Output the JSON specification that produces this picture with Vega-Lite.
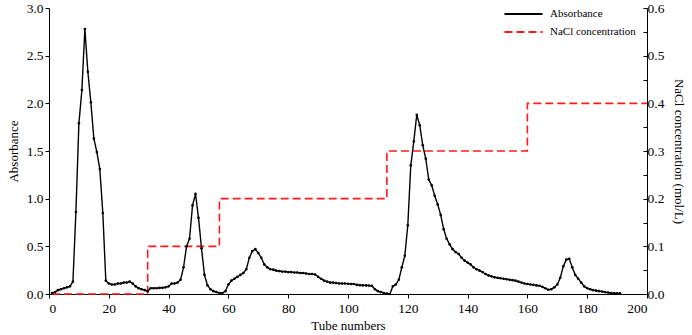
{
  "$schema": "https://vega.github.io/schema/vega-lite/v6.json",
  "width": 598,
  "height": 286,
  "autosize": "none",
  "padding": {"left": 49, "top": 8, "right": 45, "bottom": 41},
  "background": "white",
  "config": {
    "view": {"stroke": null},
    "font": "Liberation Serif",
    "axis": {"grid": false, "domainColor": "#000", "tickColor": "#000", "labelColor": "#000", "titleColor": "#000", "labelFont": "Liberation Serif", "titleFont": "Liberation Serif", "labelFontSize": 13.5, "titleFontSize": 13, "titleFontWeight": "normal", "tickSize": 4},
    "legend": {"labelFont": "Liberation Serif", "labelFontSize": 11, "labelColor": "#000"}
  },
  "datasets": {
    "abs": [
      {"t":1,"A":0.01},{"t":2,"A":0.02},{"t":3,"A":0.04},{"t":4,"A":0.05},{"t":5,"A":0.06},{"t":6,"A":0.07},{"t":7,"A":0.08},{"t":8,"A":0.13},
      {"t":9,"A":0.86},{"t":10,"A":1.79},{"t":11,"A":2.14},{"t":12,"A":2.78},{"t":13,"A":2.33},{"t":14,"A":2.01},{"t":15,"A":1.63},{"t":16,"A":1.49},{"t":17,"A":1.31},{"t":18,"A":0.85},{"t":19,"A":0.14},
      {"t":20,"A":0.11},{"t":21,"A":0.10},{"t":22,"A":0.10},{"t":23,"A":0.11},{"t":24,"A":0.11},{"t":25,"A":0.12},{"t":26,"A":0.12},{"t":27,"A":0.13},{"t":28,"A":0.11},{"t":29,"A":0.08},{"t":30,"A":0.06},{"t":31,"A":0.05},{"t":32,"A":0.04},{"t":33,"A":0.03},
      {"t":34,"A":0.06},{"t":35,"A":0.06},{"t":36,"A":0.06},{"t":37,"A":0.065},{"t":38,"A":0.065},{"t":39,"A":0.07},{"t":40,"A":0.08},{"t":41,"A":0.11},{"t":42,"A":0.11},{"t":43,"A":0.12},{"t":44,"A":0.15},{"t":45,"A":0.28},{"t":46,"A":0.50},{"t":47,"A":0.58},{"t":48,"A":0.93},{"t":49,"A":1.05},{"t":50,"A":0.80},{"t":51,"A":0.48},{"t":52,"A":0.20},{"t":53,"A":0.09},{"t":54,"A":0.05},{"t":55,"A":0.03},{"t":56,"A":0.02},{"t":57,"A":0.01},{"t":58,"A":0.01},{"t":59,"A":0.03},
      {"t":60,"A":0.10},{"t":61,"A":0.14},{"t":62,"A":0.16},{"t":63,"A":0.18},{"t":64,"A":0.20},{"t":65,"A":0.22},{"t":66,"A":0.26},{"t":67,"A":0.38},{"t":68,"A":0.45},{"t":69,"A":0.47},{"t":70,"A":0.43},{"t":71,"A":0.38},{"t":72,"A":0.31},{"t":73,"A":0.28},{"t":74,"A":0.26},{"t":75,"A":0.255},{"t":76,"A":0.245},{"t":77,"A":0.24},{"t":78,"A":0.235},{"t":79,"A":0.235},
      {"t":80,"A":0.23},{"t":81,"A":0.23},{"t":82,"A":0.225},{"t":83,"A":0.225},{"t":84,"A":0.22},{"t":85,"A":0.22},{"t":86,"A":0.215},{"t":87,"A":0.21},{"t":88,"A":0.21},{"t":89,"A":0.205},{"t":90,"A":0.18},{"t":91,"A":0.16},{"t":92,"A":0.14},{"t":93,"A":0.13},{"t":94,"A":0.12},{"t":95,"A":0.12},{"t":96,"A":0.115},{"t":97,"A":0.11},{"t":98,"A":0.11},{"t":99,"A":0.11},
      {"t":100,"A":0.108},{"t":101,"A":0.105},{"t":102,"A":0.105},{"t":103,"A":0.095},{"t":104,"A":0.093},{"t":105,"A":0.09},{"t":106,"A":0.09},{"t":107,"A":0.088},{"t":108,"A":0.085},{"t":109,"A":0.05},{"t":110,"A":0.03},{"t":111,"A":0.02},{"t":112,"A":0.01},{"t":113,"A":0.005},{"t":114,"A":0.0},{"t":115,"A":0.08},{"t":116,"A":0.10},{"t":117,"A":0.15},{"t":118,"A":0.28},{"t":119,"A":0.40},
      {"t":120,"A":0.72},{"t":121,"A":1.35},{"t":122,"A":1.60},{"t":123,"A":1.88},{"t":124,"A":1.77},{"t":125,"A":1.56},{"t":126,"A":1.42},{"t":127,"A":1.20},{"t":128,"A":1.14},{"t":129,"A":1.03},{"t":130,"A":0.94},{"t":131,"A":0.83},{"t":132,"A":0.68},{"t":133,"A":0.58},{"t":134,"A":0.52},{"t":135,"A":0.47},{"t":136,"A":0.44},{"t":137,"A":0.42},{"t":138,"A":0.38},{"t":139,"A":0.35},
      {"t":140,"A":0.33},{"t":141,"A":0.31},{"t":142,"A":0.28},{"t":143,"A":0.26},{"t":144,"A":0.245},{"t":145,"A":0.23},{"t":146,"A":0.21},{"t":147,"A":0.195},{"t":148,"A":0.185},{"t":149,"A":0.175},{"t":150,"A":0.17},{"t":151,"A":0.165},{"t":152,"A":0.16},{"t":153,"A":0.155},{"t":154,"A":0.15},{"t":155,"A":0.145},{"t":156,"A":0.14},{"t":157,"A":0.13},{"t":158,"A":0.12},{"t":159,"A":0.11},
      {"t":160,"A":0.105},{"t":161,"A":0.10},{"t":162,"A":0.095},{"t":163,"A":0.09},{"t":164,"A":0.087},{"t":165,"A":0.075},{"t":166,"A":0.06},{"t":167,"A":0.045},{"t":168,"A":0.05},{"t":169,"A":0.07},{"t":170,"A":0.10},{"t":171,"A":0.17},{"t":172,"A":0.29},{"t":173,"A":0.36},{"t":174,"A":0.37},{"t":175,"A":0.28},{"t":176,"A":0.20},{"t":177,"A":0.16},{"t":178,"A":0.12},{"t":179,"A":0.08},
      {"t":180,"A":0.06},{"t":181,"A":0.05},{"t":182,"A":0.04},{"t":183,"A":0.035},{"t":184,"A":0.03},{"t":185,"A":0.025},{"t":186,"A":0.02},{"t":187,"A":0.015},{"t":188,"A":0.01},{"t":189,"A":0.008},{"t":190,"A":0.007},{"t":191,"A":0.006}
    ],
    "nacl": [
      {"t":1,"C":0},{"t":33,"C":0.1},{"t":57,"C":0.2},{"t":113,"C":0.3},{"t":160,"C":0.4},{"t":200,"C":0.4}
    ]
  },
  "layer": [
    {
      "data": {"name": "nacl"},
      "mark": {"type": "line", "interpolate": "step-after", "strokeWidth": 1.6, "clip": false},
      "encoding": {
        "x": {"field": "t", "type": "quantitative", "scale": {"domain": [0, 200], "nice": false}, "axis": {"values": [0,20,40,60,80,100,120,140,160,180,200], "title": "Tube numbers", "titlePadding": 5, "labelPadding": 3}},
        "y": {"field": "C", "type": "quantitative", "scale": {"domain": [0, 0.6], "nice": false}, "axis": {"orient": "right", "values": [0,0.05,0.1,0.15,0.2,0.25,0.3,0.35,0.4,0.45,0.5,0.55,0.6], "labelExpr": "round(datum.value*100) % 10 == 0 ? format(datum.value, '.1f') : ''", "tickSize": -4, "labelPadding": 4, "title": "NaCl concentration (mol/L)", "titlePadding": 8}},
        "color": {"datum": "NaCl concentration", "scale": {"domain": ["Absorbance", "NaCl concentration"], "range": ["#000000", "#ff1a1a"]}, "legend": {"orient": "none", "legendX": 454, "legendY": 0, "title": null, "symbolType": "stroke", "symbolSize": 1450, "symbolStrokeWidth": 2, "clipHeight": 12, "rowPadding": 6, "labelOffset": 6, "labelFont": "Liberation Serif", "labelFontSize": 11}},
        "strokeDash": {"datum": "NaCl concentration", "scale": {"domain": ["Absorbance", "NaCl concentration"], "range": [[1,0],[8,4]]}, "legend": null}
      }
    },
    {
      "data": {"name": "abs"},
      "mark": {"type": "line", "strokeWidth": 1.4, "point": {"filled": true, "size": 7}},
      "encoding": {
        "x": {"field": "t", "type": "quantitative", "scale": {"domain": [0, 200], "nice": false}},
        "y": {"field": "A", "type": "quantitative", "scale": {"domain": [0, 3], "nice": false}, "axis": {"orient": "left", "values": [0,0.5,1,1.5,2,2.5,3], "format": ".1f", "title": "Absorbance", "titlePadding": 6}},
        "color": {"datum": "Absorbance"},
        "strokeDash": {"datum": "Absorbance"}
      }
    }
  ],
  "resolve": {"scale": {"y": "independent"}}
}
